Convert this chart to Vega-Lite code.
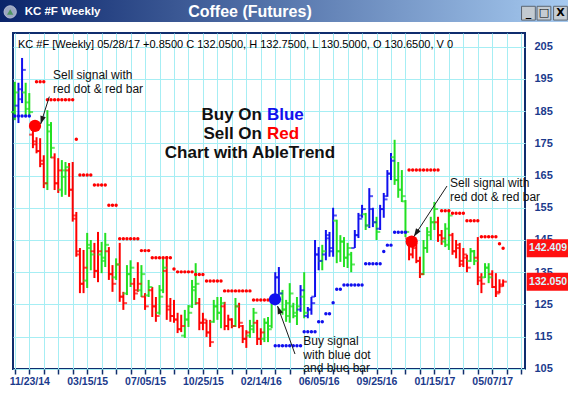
{
"$schema": "https://vega.github.io/schema/vega-lite/v6.json",
"width": 512, "height": 336,
"autosize": {"type": "none"},
"padding": {"left": 13, "top": 33, "right": 43, "bottom": 27},
"background": "white",
"config": {"font": "Liberation Sans", "view": {"stroke": "#0f2d6e", "strokeWidth": 2}},
"datasets": {
"bars": [
{"d":"2014-10-26","o":184.7,"h":194.1,"l":182.2,"c":190.8,"t":"g","s":183.5,"st":"b"},
{"d":"2014-11-02","o":186.7,"h":193.8,"l":181.3,"c":191.8,"t":"b","s":183.5,"st":"b"},
{"d":"2014-11-09","o":188.7,"h":201.5,"l":187.5,"c":197.8,"t":"b","s":183.5,"st":"b"},
{"d":"2014-11-16","o":190.8,"h":193.8,"l":183.8,"c":185.7,"t":"g","s":183.5,"st":"b"},
{"d":"2014-11-23","o":187.7,"h":190.6,"l":183.2,"c":184.7,"t":"g","s":183.5,"st":"b"},
{"d":"2014-11-30","o":177.7,"h":179.0,"l":173.5,"c":174.7,"t":"r"},
{"d":"2014-12-07","o":175.6,"h":176.9,"l":171.9,"c":172.6,"t":"r","s":194.1,"st":"r"},
{"d":"2014-12-14","o":172.6,"h":176.6,"l":167.6,"c":169.6,"t":"r","s":194.1,"st":"r"},
{"d":"2014-12-21","o":168.6,"h":171.3,"l":161.1,"c":162.6,"t":"r","s":194.1,"st":"r"},
{"d":"2014-12-28","o":162.6,"h":185.3,"l":160.5,"c":180.7,"t":"g","s":188.5,"st":"r"},
{"d":"2015-01-04","o":178.7,"h":181.6,"l":170.4,"c":173.6,"t":"g","s":188.5,"st":"r"},
{"d":"2015-01-11","o":170.6,"h":171.9,"l":160.5,"c":162.6,"t":"r","s":188.5,"st":"r"},
{"d":"2015-01-18","o":162.6,"h":170.4,"l":159.6,"c":166.6,"t":"r","s":188.5,"st":"r"},
{"d":"2015-01-25","o":160.6,"h":169.8,"l":158.4,"c":166.6,"t":"g","s":188.5,"st":"r"},
{"d":"2015-02-01","o":164.6,"h":169.2,"l":159.0,"c":167.6,"t":"g","s":188.5,"st":"r"},
{"d":"2015-02-08","o":166.6,"h":168.9,"l":158.4,"c":160.6,"t":"r","s":188.5,"st":"r"},
{"d":"2015-02-15","o":160.6,"h":169.2,"l":150.7,"c":152.6,"t":"r","s":188.5,"st":"r"},
{"d":"2015-02-22","o":151.6,"h":153.7,"l":139.8,"c":141.5,"t":"r","s":176.3,"st":"r"},
{"d":"2015-03-01","o":140.5,"h":142.5,"l":128.5,"c":131.4,"t":"r","s":165.2,"st":"r"},
{"d":"2015-03-08","o":131.4,"h":141.9,"l":128.5,"c":136.4,"t":"r","s":165.2,"st":"r"},
{"d":"2015-03-15","o":132.4,"h":147.2,"l":130.1,"c":143.5,"t":"g","s":165.2,"st":"r"},
{"d":"2015-03-22","o":142.5,"h":145.0,"l":135.6,"c":140.5,"t":"g","s":165.2,"st":"r"},
{"d":"2015-03-29","o":141.5,"h":144.1,"l":133.2,"c":135.4,"t":"r","s":162.1,"st":"r"},
{"d":"2015-04-05","o":135.4,"h":147.5,"l":131.9,"c":141.5,"t":"r","s":162.1,"st":"r"},
{"d":"2015-04-12","o":140.5,"h":144.4,"l":134.7,"c":138.5,"t":"g","s":162.1,"st":"r"},
{"d":"2015-04-19","o":139.5,"h":147.2,"l":136.6,"c":143.5,"t":"g","s":162.1,"st":"r"},
{"d":"2015-04-26","o":141.5,"h":142.8,"l":132.6,"c":134.4,"t":"r","s":155.8,"st":"r"},
{"d":"2015-05-03","o":134.4,"h":137.2,"l":128.9,"c":131.4,"t":"r","s":155.8,"st":"r"},
{"d":"2015-05-10","o":133.4,"h":139.3,"l":132.6,"c":137.4,"t":"g","s":155.8,"st":"r"},
{"d":"2015-05-17","o":137.4,"h":144.1,"l":125.8,"c":127.4,"t":"r","s":145.4,"st":"r"},
{"d":"2015-05-24","o":127.4,"h":128.9,"l":123.3,"c":125.4,"t":"r","s":145.4,"st":"r"},
{"d":"2015-05-31","o":128.4,"h":137.2,"l":127.9,"c":134.4,"t":"g","s":145.4,"st":"r"},
{"d":"2015-06-07","o":134.4,"h":138.7,"l":130.4,"c":136.4,"t":"g","s":145.4,"st":"r"},
{"d":"2015-06-14","o":131.4,"h":133.2,"l":126.4,"c":128.4,"t":"r","s":145.4,"st":"r"},
{"d":"2015-06-21","o":129.4,"h":138.1,"l":128.9,"c":131.4,"t":"r","s":145.4,"st":"r"},
{"d":"2015-06-28","o":129.4,"h":137.2,"l":127.3,"c":134.4,"t":"g","s":141.7,"st":"r"},
{"d":"2015-07-05","o":127.4,"h":128.5,"l":123.3,"c":124.4,"t":"r","s":141.7,"st":"r"},
{"d":"2015-07-12","o":127.8,"h":132.6,"l":127.3,"c":130.4,"t":"g","s":141.7,"st":"r"},
{"d":"2015-07-19","o":129.4,"h":130.4,"l":121.1,"c":124.4,"t":"r","s":139.5,"st":"r"},
{"d":"2015-07-26","o":124.4,"h":127.3,"l":119.6,"c":121.4,"t":"r","s":139.5,"st":"r"},
{"d":"2015-08-02","o":122.4,"h":131.0,"l":121.8,"c":127.4,"t":"g","s":139.5,"st":"r"},
{"d":"2015-08-09","o":129.4,"h":139.3,"l":128.5,"c":136.4,"t":"g","s":139.5,"st":"r"},
{"d":"2015-08-16","o":135.4,"h":140.0,"l":120.2,"c":123.4,"t":"r","s":139.5,"st":"r"},
{"d":"2015-08-23","o":124.4,"h":127.0,"l":119.6,"c":121.4,"t":"r","s":139.5,"st":"r"},
{"d":"2015-08-30","o":121.4,"h":126.4,"l":119.3,"c":120.3,"t":"r","s":136.0,"st":"r"},
{"d":"2015-09-06","o":120.3,"h":122.4,"l":116.1,"c":117.3,"t":"r","s":135.1,"st":"r"},
{"d":"2015-09-13","o":117.3,"h":121.8,"l":116.4,"c":118.3,"t":"r","s":135.1,"st":"r"},
{"d":"2015-09-20","o":115.3,"h":123.3,"l":114.6,"c":120.3,"t":"g","s":135.1,"st":"r"},
{"d":"2015-09-27","o":120.3,"h":124.8,"l":118.0,"c":122.4,"t":"g","s":135.1,"st":"r"},
{"d":"2015-10-04","o":124.4,"h":132.6,"l":123.9,"c":130.4,"t":"g","s":135.1,"st":"r"},
{"d":"2015-10-11","o":129.4,"h":137.8,"l":124.8,"c":131.4,"t":"g","s":134.3,"st":"r"},
{"d":"2015-10-18","o":125.4,"h":127.0,"l":117.0,"c":119.3,"t":"r","s":134.3,"st":"r"},
{"d":"2015-10-25","o":119.3,"h":122.4,"l":117.0,"c":120.3,"t":"r","s":134.3,"st":"r"},
{"d":"2015-11-01","o":119.3,"h":120.2,"l":114.9,"c":116.3,"t":"r","s":132.3,"st":"r"},
{"d":"2015-11-08","o":116.3,"h":120.2,"l":111.8,"c":113.3,"t":"r","s":132.3,"st":"r"},
{"d":"2015-11-15","o":119.6,"h":126.4,"l":119.3,"c":124.4,"t":"g","s":132.3,"st":"r"},
{"d":"2015-11-22","o":124.4,"h":127.3,"l":120.2,"c":122.4,"t":"g","s":132.3,"st":"r"},
{"d":"2015-11-29","o":122.4,"h":127.3,"l":117.6,"c":125.4,"t":"g","s":132.3,"st":"r"},
{"d":"2015-12-06","o":124.4,"h":125.8,"l":117.0,"c":118.3,"t":"r","s":129.2,"st":"r"},
{"d":"2015-12-13","o":118.3,"h":121.8,"l":117.0,"c":120.3,"t":"r","s":129.2,"st":"r"},
{"d":"2015-12-20","o":120.3,"h":120.7,"l":117.6,"c":118.3,"t":"r","s":129.2,"st":"r"},
{"d":"2015-12-27","o":118.3,"h":127.0,"l":118.0,"c":124.4,"t":"g","s":129.2,"st":"r"},
{"d":"2016-01-03","o":124.4,"h":125.5,"l":117.6,"c":119.3,"t":"r","s":129.2,"st":"r"},
{"d":"2016-01-10","o":118.3,"h":118.6,"l":113.0,"c":114.3,"t":"r","s":129.2,"st":"r"},
{"d":"2016-01-17","o":114.3,"h":117.0,"l":111.5,"c":116.3,"t":"r","s":129.2,"st":"r"},
{"d":"2016-01-24","o":115.3,"h":120.2,"l":114.6,"c":118.3,"t":"g","s":129.2,"st":"r"},
{"d":"2016-01-31","o":117.3,"h":123.9,"l":116.1,"c":122.4,"t":"g","s":126.4,"st":"r"},
{"d":"2016-02-07","o":119.3,"h":120.2,"l":112.4,"c":114.3,"t":"r","s":126.4,"st":"r"},
{"d":"2016-02-14","o":114.3,"h":117.6,"l":112.4,"c":116.3,"t":"r","s":126.4,"st":"r"},
{"d":"2016-02-21","o":114.3,"h":120.7,"l":113.3,"c":119.3,"t":"g","s":126.4,"st":"r"},
{"d":"2016-02-28","o":119.3,"h":121.1,"l":113.3,"c":117.3,"t":"g","s":126.4,"st":"r"},
{"d":"2016-03-06","o":118.3,"h":126.4,"l":117.6,"c":125.4,"t":"g"},
{"d":"2016-03-13","o":126.4,"h":135.0,"l":126.4,"c":133.4,"t":"b","s":112.2,"st":"b"},
{"d":"2016-03-20","o":133.4,"h":136.6,"l":126.4,"c":128.4,"t":"b","s":112.2,"st":"b"},
{"d":"2016-03-27","o":128.4,"h":129.5,"l":121.8,"c":123.4,"t":"g","s":112.2,"st":"b"},
{"d":"2016-04-03","o":123.4,"h":126.4,"l":119.6,"c":125.4,"t":"g","s":112.2,"st":"b"},
{"d":"2016-04-10","o":121.4,"h":131.6,"l":119.3,"c":128.4,"t":"g","s":112.2,"st":"b"},
{"d":"2016-04-17","o":124.4,"h":125.5,"l":120.7,"c":122.4,"t":"g","s":112.2,"st":"b"},
{"d":"2016-04-24","o":121.4,"h":127.3,"l":118.6,"c":124.4,"t":"g","s":112.2,"st":"b"},
{"d":"2016-05-01","o":123.4,"h":131.0,"l":122.7,"c":129.4,"t":"b","s":112.2,"st":"b"},
{"d":"2016-05-08","o":127.4,"h":135.0,"l":120.7,"c":122.4,"t":"g","s":116.5,"st":"b"},
{"d":"2016-05-15","o":121.4,"h":124.2,"l":120.7,"c":123.4,"t":"b","s":116.5,"st":"b"},
{"d":"2016-05-22","o":123.4,"h":127.3,"l":121.8,"c":125.4,"t":"b","s":116.5,"st":"b"},
{"d":"2016-05-29","o":127.4,"h":145.0,"l":127.3,"c":140.5,"t":"b","s":116.5,"st":"b"},
{"d":"2016-06-05","o":140.5,"h":142.8,"l":135.6,"c":138.5,"t":"b","s":119.6,"st":"b"},
{"d":"2016-06-12","o":138.5,"h":143.5,"l":135.6,"c":141.5,"t":"g","s":119.6,"st":"b"},
{"d":"2016-06-19","o":140.5,"h":148.1,"l":138.7,"c":146.5,"t":"b","s":122.1,"st":"b"},
{"d":"2016-06-26","o":145.5,"h":147.5,"l":139.8,"c":141.5,"t":"b","s":122.1,"st":"b"},
{"d":"2016-07-03","o":142.5,"h":155.0,"l":139.8,"c":152.6,"t":"b","s":125.5,"st":"b"},
{"d":"2016-07-10","o":151.0,"h":151.3,"l":137.8,"c":141.5,"t":"g","s":129.7,"st":"b"},
{"d":"2016-07-17","o":141.5,"h":146.5,"l":138.2,"c":144.5,"t":"g","s":129.7,"st":"b"},
{"d":"2016-07-24","o":144.5,"h":145.9,"l":136.6,"c":139.5,"t":"g","s":131.0,"st":"b"},
{"d":"2016-07-31","o":139.5,"h":144.1,"l":136.3,"c":142.5,"t":"g","s":131.0,"st":"b"},
{"d":"2016-08-07","o":140.5,"h":141.3,"l":135.0,"c":137.4,"t":"g","s":131.0,"st":"b"},
{"d":"2016-08-14","o":142.5,"h":148.1,"l":142.5,"c":146.5,"t":"b","s":131.0,"st":"b"},
{"d":"2016-08-21","o":146.5,"h":153.4,"l":145.6,"c":151.6,"t":"b","s":131.0,"st":"b"},
{"d":"2016-08-28","o":152.6,"h":155.9,"l":151.9,"c":154.6,"t":"b","s":131.0,"st":"b"},
{"d":"2016-09-04","o":153.0,"h":153.4,"l":148.1,"c":149.5,"t":"g","s":137.6,"st":"b"},
{"d":"2016-09-11","o":149.5,"h":161.1,"l":148.7,"c":158.6,"t":"b","s":137.6,"st":"b"},
{"d":"2016-09-18","o":154.6,"h":155.0,"l":149.0,"c":150.5,"t":"b","s":137.6,"st":"b"},
{"d":"2016-09-25","o":150.5,"h":152.2,"l":145.0,"c":147.5,"t":"g","s":137.6,"st":"b"},
{"d":"2016-10-02","o":148.5,"h":155.9,"l":148.1,"c":154.6,"t":"b","s":137.6,"st":"b"},
{"d":"2016-10-09","o":154.6,"h":159.6,"l":151.9,"c":157.6,"t":"b","s":141.4,"st":"b"},
{"d":"2016-10-16","o":158.6,"h":166.7,"l":158.4,"c":165.6,"t":"b","s":143.4,"st":"b"},
{"d":"2016-10-23","o":165.6,"h":172.0,"l":163.6,"c":169.6,"t":"b","s":143.4,"st":"b"},
{"d":"2016-10-30","o":170.7,"h":176.1,"l":162.1,"c":163.6,"t":"g","s":147.4,"st":"b"},
{"d":"2016-11-06","o":163.6,"h":169.2,"l":158.1,"c":160.6,"t":"g","s":147.4,"st":"b"},
{"d":"2016-11-13","o":160.6,"h":166.7,"l":156.8,"c":158.6,"t":"g","s":147.4,"st":"b"},
{"d":"2016-11-20","o":157.0,"h":157.4,"l":145.9,"c":147.5,"t":"g","s":147.4,"st":"b"},
{"d":"2016-11-27","o":145.5,"h":145.9,"l":138.7,"c":140.5,"t":"r","s":166.7,"st":"r"},
{"d":"2016-12-04","o":140.5,"h":145.0,"l":139.3,"c":143.5,"t":"r","s":166.7,"st":"r"},
{"d":"2016-12-11","o":142.5,"h":144.1,"l":137.8,"c":138.5,"t":"r","s":166.7,"st":"r"},
{"d":"2016-12-18","o":138.5,"h":139.8,"l":133.2,"c":134.4,"t":"r","s":166.7,"st":"r"},
{"d":"2016-12-25","o":134.4,"h":145.0,"l":134.1,"c":142.5,"t":"g","s":166.7,"st":"r"},
{"d":"2017-01-01","o":142.5,"h":149.0,"l":141.0,"c":147.5,"t":"g","s":166.7,"st":"r"},
{"d":"2017-01-08","o":146.5,"h":152.2,"l":145.0,"c":150.5,"t":"g","s":166.7,"st":"r"},
{"d":"2017-01-15","o":150.5,"h":156.8,"l":148.1,"c":154.6,"t":"g","s":166.7,"st":"r"},
{"d":"2017-01-22","o":150.5,"h":152.2,"l":144.4,"c":146.5,"t":"r","s":166.7,"st":"r"},
{"d":"2017-01-29","o":146.5,"h":148.1,"l":143.5,"c":145.5,"t":"r","s":154.1,"st":"r"},
{"d":"2017-02-05","o":144.5,"h":150.2,"l":142.8,"c":148.5,"t":"g","s":154.1,"st":"r"},
{"d":"2017-02-12","o":143.5,"h":154.4,"l":141.9,"c":152.6,"t":"g","s":154.1,"st":"r"},
{"d":"2017-02-19","o":146.5,"h":147.2,"l":140.4,"c":141.5,"t":"r","s":153.3,"st":"r"},
{"d":"2017-02-26","o":141.5,"h":145.0,"l":139.3,"c":143.5,"t":"r","s":153.3,"st":"r"},
{"d":"2017-03-05","o":142.5,"h":144.1,"l":136.6,"c":137.4,"t":"r","s":153.3,"st":"r"},
{"d":"2017-03-12","o":138.5,"h":142.5,"l":136.6,"c":140.5,"t":"r","s":153.3,"st":"r"},
{"d":"2017-03-19","o":139.5,"h":140.4,"l":135.0,"c":136.4,"t":"r","s":151.0,"st":"r"},
{"d":"2017-03-26","o":138.5,"h":142.5,"l":138.2,"c":141.5,"t":"g","s":151.0,"st":"r"},
{"d":"2017-04-02","o":141.5,"h":141.9,"l":137.2,"c":138.5,"t":"g","s":151.0,"st":"r"},
{"d":"2017-04-09","o":139.5,"h":145.9,"l":131.0,"c":132.4,"t":"r","s":151.0,"st":"r"},
{"d":"2017-04-16","o":133.4,"h":134.7,"l":128.5,"c":131.4,"t":"r","s":146.0,"st":"r"},
{"d":"2017-04-23","o":133.4,"h":137.8,"l":133.2,"c":136.4,"t":"g","s":146.0,"st":"r"},
{"d":"2017-04-30","o":136.4,"h":137.8,"l":131.6,"c":133.4,"t":"g","s":146.0,"st":"r"},
{"d":"2017-05-07","o":134.4,"h":135.6,"l":130.1,"c":130.4,"t":"r","s":146.0,"st":"r"},
{"d":"2017-05-14","o":130.4,"h":134.7,"l":127.3,"c":128.4,"t":"r","s":146.0,"st":"r"},
{"d":"2017-05-21","o":128.9,"h":132.8,"l":128.5,"c":131.2,"t":"r","s":143.8,"st":"r"},
{"d":"2017-05-28","o":130.65,"h":132.75,"l":130.5,"c":132.05,"t":"r","s":142.409,"st":"r"}
],
"signals": [
{"d":"2014-12-04","p":180.4,"t":"r"},
{"d":"2016-03-12T12:00:00Z","p":126.6,"t":"b"},
{"d":"2016-12-02","p":144.5,"t":"r"}
],
"arrows": [
{"id":"a1","d":"2014-12-31T17:00:00Z","p":189.5,"d2":"2014-12-15T01:00:00Z","p2":181.0},
{"id":"a2","d":"2017-02-08T10:00:00Z","p":161.75,"d2":"2016-12-06T12:00:00Z","p2":146.1},
{"id":"a3","d":"2016-04-20T05:00:00Z","p":109.6,"d2":"2016-03-17T10:00:00Z","p2":124.5}
],
"notes": [
{"g":"hdr","d":"2014-11-01","p":205.6,"text":"KC #F [Weekly] 05/28/17 +0.8500 C 132.0500, H 132.7500, L 130.5000, O 130.6500, V 0"},
{"g":"note","d":"2015-01-08","p":195.1,"text":"Sell signal with"},
{"g":"note","d":"2015-01-08","p":190.5,"text":"red dot & red bar"},
{"g":"note","d":"2017-02-14T05:00:00Z","p":161.6,"text":"Sell signal with"},
{"g":"note","d":"2017-02-14T05:00:00Z","p":157.0,"text":"red dot & red bar"},
{"g":"note","d":"2016-05-06T07:00:00Z","p":112.55,"text":"Buy signal"},
{"g":"note","d":"2016-05-06T07:00:00Z","p":108.2,"text":"with blue dot"},
{"g":"note","d":"2016-05-06T07:00:00Z","p":104.0,"text":"and blue bar"},
{"g":"bk","d":"2016-02-26","p":182.1,"text":"Buy On"},
{"g":"bl","d":"2016-02-26","p":182.1,"text":"Blue"},
{"g":"bk","d":"2016-02-26","p":176.5,"text":"Sell On"},
{"g":"rd","d":"2016-02-26","p":176.5,"text":"Red"},
{"g":"ct","d":"2016-01-24","p":170.4,"text":"Chart with AbleTrend"}
],
"pricelabels": [
{"d":"2017-05-28","p":142.409,"text":"142.409"},
{"d":"2017-05-28","p":132.05,"text":"132.050"}
],
"titlebar": [
{"d":"2014-09-27T07:00:00Z","d2":"2017-09-30T15:00:00Z","p":212.67,"p2":219.6}
],
"titles": [
{"g":"win","d":"2014-11-14","p":215.8,"text":"KC #F Weekly"},
{"g":"main","d":"2016-01-24","p":215.8,"text":"Coffee (Futures)"}
],
"buttons": [
{"d":"2017-07-16","p":215.4,"text":"_"},
{"d":"2017-08-15","p":215.4,"text":"□"},
{"d":"2017-09-16","p":215.4,"text":"X"}
],
"icon": [
{"d":"2014-10-17","p":215.8}
]
},
"layer": [
{"data":{"name":"bars"},
 "mark":{"type":"rule","strokeWidth":2},
 "encoding":{
  "x":{"field":"d","type":"temporal","scale":{"type":"utc","domain":[1413975571200,1499588640000],"nice":false},
   "axis":{"title":null,"tickCount":200,
    "values":[1414281600000,1416700800000,1419120000000,1421539200000,1423958400000,1426377600000,1428796800000,1431216000000,1433635200000,1436054400000,1438473600000,1440892800000,1443312000000,1445731200000,1448150400000,1450569600000,1452988800000,1455408000000,1457827200000,1460246400000,1462665600000,1465084800000,1467504000000,1469923200000,1472342400000,1474761600000,1477180800000,1479600000000,1482019200000,1484438400000,1486857600000,1489276800000,1491696000000,1494115200000,1496534400000,1498953600000],
    "labelExpr":"round((datum.value - 1416700800000) / 604800000) % 16 == 0 ? utcFormat(datum.value, '%m/%d/%y') : ''",
    "grid":true,"gridColor":"#a6eef4","gridWidth":1,
    "ticks":true,"tickSize":5,"tickWidth":1.5,"tickColor":"#10306e",
    "domain":false,
    "labelFontSize":10.5,"labelFontWeight":"bold","labelColor":"#1b3a8c","labelPadding":2,
    "labelFlush":false,"labelOverlap":false,"labelBound":false}},
  "y":{"field":"h","type":"quantitative","scale":{"domain":[104.95,209.25],"nice":false,"zero":false},
   "axis":{"title":null,"orient":"right","tickCount":200,
    "values":[105,115,125,135,145,155,165,175,185,195,205],"format":"d",
    "grid":true,"gridColor":"#a6eef4","gridWidth":1,
    "ticks":false,"domain":false,
    "labelFontSize":11,"labelFontWeight":"bold","labelColor":"#1b3a8c","labelPadding":9,
    "labelFlush":false,"labelOverlap":false,"labelBound":false}},
  "y2":{"field":"l"},
  "color":{"field":"t","type":"nominal","scale":{"domain":["r","g","b"],"range":["#ff0000","#22e022","#1010ee"]},"legend":null}}},
{"data":{"name":"titlebar"},
 "mark":{"type":"rect","fill":{"gradient":"linear","x1":0,"y1":0,"x2":1,"y2":0,"stops":[{"offset":0,"color":"#0a246a"},{"offset":1,"color":"#a6caf0"}]}},
 "encoding":{
  "x":{"field":"d","type":"temporal","scale":{"type":"utc","domain":[1413975571200,1499588640000],"nice":false}},
  "x2":{"field":"d2"},
  "y":{"field":"p","type":"quantitative","scale":{"domain":[104.95,209.25],"nice":false,"zero":false}},
  "y2":{"field":"p2"}}},
{"data":{"name":"icon"},
 "mark":{"type":"point","shape":"circle","filled":true,"size":150,"color":"#d8dde6","stroke":"#ffffff","strokeWidth":1},
 "encoding":{
  "x":{"field":"d","type":"temporal","scale":{"type":"utc","domain":[1413975571200,1499588640000],"nice":false}},
  "y":{"field":"p","type":"quantitative","scale":{"domain":[104.95,209.25],"nice":false,"zero":false}}}},
{"data":{"name":"icon"},
 "mark":{"type":"point","shape":"triangle-up","filled":true,"size":40,"color":"#2f8f3a"},
 "encoding":{
  "x":{"field":"d","type":"temporal","scale":{"type":"utc","domain":[1413975571200,1499588640000],"nice":false}},
  "y":{"field":"p","type":"quantitative","scale":{"domain":[104.95,209.25],"nice":false,"zero":false}}}},
{"data":{"name":"titles"},
 "transform":[{"filter":"datum.g == 'win'"}],
 "mark":{"type":"text","align":"left","baseline":"middle","fontSize":11.5,"fontWeight":"bold","color":"#ffffff"},
 "encoding":{
  "x":{"field":"d","type":"temporal","scale":{"type":"utc","domain":[1413975571200,1499588640000],"nice":false}},
  "y":{"field":"p","type":"quantitative","scale":{"domain":[104.95,209.25],"nice":false,"zero":false}},
  "text":{"field":"text"}}},
{"data":{"name":"titles"},
 "transform":[{"filter":"datum.g == 'main'"}],
 "mark":{"type":"text","align":"center","baseline":"middle","fontSize":16,"fontWeight":"bold","color":"#ffffff"},
 "encoding":{
  "x":{"field":"d","type":"temporal","scale":{"type":"utc","domain":[1413975571200,1499588640000],"nice":false}},
  "y":{"field":"p","type":"quantitative","scale":{"domain":[104.95,209.25],"nice":false,"zero":false}},
  "text":{"field":"text"}}},
{"data":{"name":"buttons"},
 "mark":{"type":"point","shape":"square","filled":true,"size":190,"color":"#d4d0c8","stroke":"#404040","strokeWidth":1},
 "encoding":{
  "x":{"field":"d","type":"temporal","scale":{"type":"utc","domain":[1413975571200,1499588640000],"nice":false}},
  "y":{"field":"p","type":"quantitative","scale":{"domain":[104.95,209.25],"nice":false,"zero":false}}}},
{"data":{"name":"buttons"},
 "mark":{"type":"text","align":"center","baseline":"middle","fontSize":11,"fontWeight":"bold","font":"DejaVu Sans","color":"#000000"},
 "encoding":{
  "x":{"field":"d","type":"temporal","scale":{"type":"utc","domain":[1413975571200,1499588640000],"nice":false}},
  "y":{"field":"p","type":"quantitative","scale":{"domain":[104.95,209.25],"nice":false,"zero":false}},
  "text":{"field":"text"}}},
{"data":{"name":"bars"},
 "mark":{"type":"tick","orient":"horizontal","size":3.5,"thickness":2,"xOffset":-2},
 "encoding":{
  "x":{"field":"d","type":"temporal","scale":{"type":"utc","domain":[1413975571200,1499588640000],"nice":false}},
  "y":{"field":"o","type":"quantitative","scale":{"domain":[104.95,209.25],"nice":false,"zero":false}},
  "color":{"field":"t","type":"nominal","scale":{"domain":["r","g","b"],"range":["#ff0000","#22e022","#1010ee"]},"legend":null}}},
{"data":{"name":"bars"},
 "mark":{"type":"tick","orient":"horizontal","size":3.5,"thickness":2,"xOffset":2},
 "encoding":{
  "x":{"field":"d","type":"temporal","scale":{"type":"utc","domain":[1413975571200,1499588640000],"nice":false}},
  "y":{"field":"c","type":"quantitative","scale":{"domain":[104.95,209.25],"nice":false,"zero":false}},
  "color":{"field":"t","type":"nominal","scale":{"domain":["r","g","b"],"range":["#ff0000","#22e022","#1010ee"]},"legend":null}}},
{"data":{"name":"bars"},
 "mark":{"type":"point","shape":"circle","filled":true,"size":12,"opacity":1},
 "encoding":{
  "x":{"field":"d","type":"temporal","scale":{"type":"utc","domain":[1413975571200,1499588640000],"nice":false}},
  "y":{"field":"s","type":"quantitative","scale":{"domain":[104.95,209.25],"nice":false,"zero":false}},
  "color":{"field":"st","type":"nominal","scale":{"domain":["r","g","b"],"range":["#ff0000","#22e022","#1010ee"]},"legend":null}}},
{"data":{"name":"signals"},
 "mark":{"type":"point","shape":"circle","filled":true,"size":150,"opacity":1},
 "encoding":{
  "x":{"field":"d","type":"temporal","scale":{"type":"utc","domain":[1413975571200,1499588640000],"nice":false}},
  "y":{"field":"p","type":"quantitative","scale":{"domain":[104.95,209.25],"nice":false,"zero":false}},
  "color":{"field":"t","type":"nominal","scale":{"domain":["r","g","b"],"range":["#ff0000","#22e022","#1010ee"]},"legend":null}}},
{"data":{"name":"arrows"},
 "mark":{"type":"rule","color":"#1a1a1a","strokeWidth":1},
 "encoding":{
  "x":{"field":"d","type":"temporal","scale":{"type":"utc","domain":[1413975571200,1499588640000],"nice":false}},
  "y":{"field":"p","type":"quantitative","scale":{"domain":[104.95,209.25],"nice":false,"zero":false}},
  "x2":{"field":"d2"},
  "y2":{"field":"p2"}}},
{"data":{"name":"arrows"},
 "transform":[{"filter":"datum.id == 'a1'"}],
 "mark":{"type":"point","shape":"M0,0L-0.35,1L0.35,1Z","angle":197.5,"filled":true,"size":256,"color":"#1a1a1a","opacity":1},
 "encoding":{
  "x":{"field":"d2","type":"temporal","scale":{"type":"utc","domain":[1413975571200,1499588640000],"nice":false}},
  "y":{"field":"p2","type":"quantitative","scale":{"domain":[104.95,209.25],"nice":false,"zero":false}}}},
{"data":{"name":"arrows"},
 "transform":[{"filter":"datum.id == 'a2'"}],
 "mark":{"type":"point","shape":"M0,0L-0.35,1L0.35,1Z","angle":213.2,"filled":true,"size":256,"color":"#1a1a1a","opacity":1},
 "encoding":{
  "x":{"field":"d2","type":"temporal","scale":{"type":"utc","domain":[1413975571200,1499588640000],"nice":false}},
  "y":{"field":"p2","type":"quantitative","scale":{"domain":[104.95,209.25],"nice":false,"zero":false}}}},
{"data":{"name":"arrows"},
 "transform":[{"filter":"datum.id == 'a3'"}],
 "mark":{"type":"point","shape":"M0,0L-0.35,1L0.35,1Z","angle":339.1,"filled":true,"size":256,"color":"#1a1a1a","opacity":1},
 "encoding":{
  "x":{"field":"d2","type":"temporal","scale":{"type":"utc","domain":[1413975571200,1499588640000],"nice":false}},
  "y":{"field":"p2","type":"quantitative","scale":{"domain":[104.95,209.25],"nice":false,"zero":false}}}},
{"data":{"name":"notes"},
 "transform":[{"filter":"datum.g == 'hdr'"}],
 "mark":{"type":"text","align":"left","baseline":"middle","fontSize":11,"color":"#000000"},
 "encoding":{
  "x":{"field":"d","type":"temporal","scale":{"type":"utc","domain":[1413975571200,1499588640000],"nice":false}},
  "y":{"field":"p","type":"quantitative","scale":{"domain":[104.95,209.25],"nice":false,"zero":false}},
  "text":{"field":"text"}}},
{"data":{"name":"notes"},
 "transform":[{"filter":"datum.g == 'note'"}],
 "mark":{"type":"text","align":"left","baseline":"alphabetic","fontSize":12,"color":"#111111"},
 "encoding":{
  "x":{"field":"d","type":"temporal","scale":{"type":"utc","domain":[1413975571200,1499588640000],"nice":false}},
  "y":{"field":"p","type":"quantitative","scale":{"domain":[104.95,209.25],"nice":false,"zero":false}},
  "text":{"field":"text"}}},
{"data":{"name":"notes"},
 "transform":[{"filter":"datum.g == 'bk'"}],
 "mark":{"type":"text","align":"right","baseline":"alphabetic","dx":-5,"fontSize":17,"fontWeight":"bold","color":"#111111"},
 "encoding":{
  "x":{"field":"d","type":"temporal","scale":{"type":"utc","domain":[1413975571200,1499588640000],"nice":false}},
  "y":{"field":"p","type":"quantitative","scale":{"domain":[104.95,209.25],"nice":false,"zero":false}},
  "text":{"field":"text"}}},
{"data":{"name":"notes"},
 "transform":[{"filter":"datum.g == 'bl'"}],
 "mark":{"type":"text","align":"left","baseline":"alphabetic","fontSize":17,"fontWeight":"bold","color":"#1010ee"},
 "encoding":{
  "x":{"field":"d","type":"temporal","scale":{"type":"utc","domain":[1413975571200,1499588640000],"nice":false}},
  "y":{"field":"p","type":"quantitative","scale":{"domain":[104.95,209.25],"nice":false,"zero":false}},
  "text":{"field":"text"}}},
{"data":{"name":"notes"},
 "transform":[{"filter":"datum.g == 'rd'"}],
 "mark":{"type":"text","align":"left","baseline":"alphabetic","fontSize":17,"fontWeight":"bold","color":"#ff0000"},
 "encoding":{
  "x":{"field":"d","type":"temporal","scale":{"type":"utc","domain":[1413975571200,1499588640000],"nice":false}},
  "y":{"field":"p","type":"quantitative","scale":{"domain":[104.95,209.25],"nice":false,"zero":false}},
  "text":{"field":"text"}}},
{"data":{"name":"notes"},
 "transform":[{"filter":"datum.g == 'ct'"}],
 "mark":{"type":"text","align":"center","baseline":"alphabetic","fontSize":17,"fontWeight":"bold","color":"#111111"},
 "encoding":{
  "x":{"field":"d","type":"temporal","scale":{"type":"utc","domain":[1413975571200,1499588640000],"nice":false}},
  "y":{"field":"p","type":"quantitative","scale":{"domain":[104.95,209.25],"nice":false,"zero":false}},
  "text":{"field":"text"}}},
{"data":{"name":"pricelabels"},
 "mark":{"type":"point","shape":"M-1,-0.397H1V0.397H-1Z","filled":true,"size":2052,"color":"#ff1010","opacity":1,"xOffset":46.2},
 "encoding":{
  "x":{"field":"d","type":"temporal","scale":{"type":"utc","domain":[1413975571200,1499588640000],"nice":false}},
  "y":{"field":"p","type":"quantitative","scale":{"domain":[104.95,209.25],"nice":false,"zero":false}}}},
{"data":{"name":"pricelabels"},
 "mark":{"type":"text","align":"left","baseline":"middle","dx":26,"fontSize":10.5,"fontWeight":"bold","color":"#d6f6ff"},
 "encoding":{
  "x":{"field":"d","type":"temporal","scale":{"type":"utc","domain":[1413975571200,1499588640000],"nice":false}},
  "y":{"field":"p","type":"quantitative","scale":{"domain":[104.95,209.25],"nice":false,"zero":false}},
  "text":{"field":"text"}}}
]
}
